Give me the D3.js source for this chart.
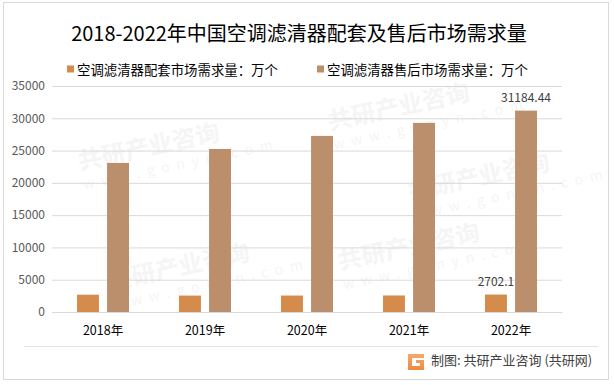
<!DOCTYPE html>
<html>
<head>
<meta charset="utf-8">
<script src="https://cdn.jsdelivr.net/npm/d3@7"></script>
<style>
  body { margin: 0; background: #fff; }
  svg { display: block; }
</style>
</head>
<body>
<div id="chart"></div>
<script>
// data
var years = ["2018年", "2019年", "2020年", "2021年", "2022年"];
var oemValues = [2680, 2540, 2550, 2560, 2702.1];
var afterValues = [23080, 25250, 27270, 29290, 31184.44];
var seriesNames = ["空调滤清器配套市场需求量：万个", "空调滤清器售后市场需求量：万个"];
var yTicks = [0, 5000, 10000, 15000, 20000, 25000, 30000, 35000];

function init() {
    var width = 614, height = 385;
    var left = 52, right = 562, top = 86, bottom = 312;
    var colors = ["#d48b4c", "#bb8e6c"];
    var font = "'Noto Sans CJK SC', 'Noto Sans', sans-serif";

    var svg = d3.select("#chart").append("svg")
        .attr("width", width)
        .attr("height", height);

    svg.append("rect")
        .attr("x", 3.5).attr("y", 2.5)
        .attr("width", 605).attr("height", 377)
        .attr("fill", "#fff")
        .attr("stroke", "#d9d9d9");

    // faint watermarks, kept inside the frame
    var wm = svg.append("g").attr("fill", "#f5f5f5").attr("font-family", font).attr("font-weight", "bold");
    [[80, 170], [330, 130], [110, 290], [340, 270], [410, 200]].forEach(function(p) {
        var g = wm.append("g").attr("transform", "translate(" + p[0] + "," + p[1] + ") rotate(-12)");
        g.append("text").attr("font-size", 24).text("共研产业咨询");
        g.append("text").attr("y", 20).attr("font-size", 14).attr("font-weight", "normal")
            .attr("letter-spacing", 7).text("www.gonyn.com");
    });

    var x0 = d3.scaleBand().domain(years).range([left, right]);
    var x1 = d3.scaleBand().domain([0, 1]).range([0, 52]).paddingInner(0.27);
    var y = d3.scaleLinear().domain([0, 35000]).range([bottom, top]);

    var yAxis = d3.axisLeft(y).tickValues(yTicks).tickSize(-(right - left)).tickFormat(d3.format("d"));
    var gy = svg.append("g").attr("transform", "translate(" + left + ",0)").call(yAxis);
    gy.select(".domain").remove();
    gy.selectAll(".tick line").attr("stroke", "#d9d9d9");
    gy.selectAll(".tick text").attr("x", -7).attr("fill", "#595959")
        .attr("font-size", 12).attr("font-family", font);

    var xAxis = d3.axisBottom(x0).tickSize(0).tickPadding(14);
    var gx = svg.append("g").attr("transform", "translate(0," + bottom + ")").call(xAxis);
    gx.select(".domain").attr("stroke", "#d9d9d9");
    gx.selectAll(".tick text").attr("fill", "#000").attr("font-size", 12.5).attr("font-family", font);

    var all = [oemValues, afterValues];
    all.forEach(function(vals, s) {
        svg.append("g").selectAll("rect")
            .data(vals)
            .enter()
            .append("rect")
            .attr("x", function(d, i) { return x0(years[i]) + x0.bandwidth() / 2 - 26 + x1(s); })
            .attr("y", function(d) { return y(d); })
            .attr("width", x1.bandwidth())
            .attr("height", function(d) { return bottom - y(d); })
            .attr("fill", colors[s]);
    });

    // data labels on the last year
    var last = years.length - 1;
    [[0, oemValues[last], "2702.1"], [1, afterValues[last], "31184.44"]].forEach(function(l) {
        svg.append("text")
            .attr("x", x0(years[last]) + x0.bandwidth() / 2 - 26 + x1(l[0]) + x1.bandwidth() / 2)
            .attr("y", y(l[1]) - 9)
            .attr("text-anchor", "middle")
            .attr("font-size", 12).attr("font-family", font)
            .attr("fill", "#404040")
            .text(l[2]);
    });

    svg.append("text")
        .attr("x", 299).attr("y", 41)
        .attr("text-anchor", "middle")
        .attr("font-size", 20).attr("font-family", font)
        .attr("fill", "#000")
        .text("2018-2022年中国空调滤清器配套及售后市场需求量");

    var legendX = [67, 317];
    seriesNames.forEach(function(name, i) {
        svg.append("rect").attr("x", legendX[i]).attr("y", 65.5)
            .attr("width", 7).attr("height", 7).attr("fill", colors[i]);
        svg.append("text").attr("x", legendX[i] + 10).attr("y", 74.5)
            .attr("font-size", 13.4).attr("font-family", font).attr("fill", "#000")
            .text(name);
    });

    // footer
    svg.append("line").attr("x1", 24).attr("x2", 598).attr("y1", 346.5).attr("y2", 346.5)
        .attr("stroke", "#e3e3e3");
    var grad = svg.append("defs").append("linearGradient").attr("id", "lg")
        .attr("x1", 0).attr("y1", 0).attr("x2", 0).attr("y2", 1);
    grad.append("stop").attr("offset", "0%").attr("stop-color", "#f7a86a");
    grad.append("stop").attr("offset", "100%").attr("stop-color", "#f08a40");
    svg.append("path")
        .attr("d", "M408,354 h16 v4 h-12 v8 h8 v-3 h-4 v-3 h8 v10 h-16 z")
        .attr("fill", "url(#lg)");
    svg.append("text").attr("x", 431).attr("y", 365)
        .attr("font-size", 13).attr("font-family", font).attr("fill", "#404040")
        .text("制图: 共研产业咨询 (共研网)");
}
window.onload = init;
</script>
</body>
</html>
